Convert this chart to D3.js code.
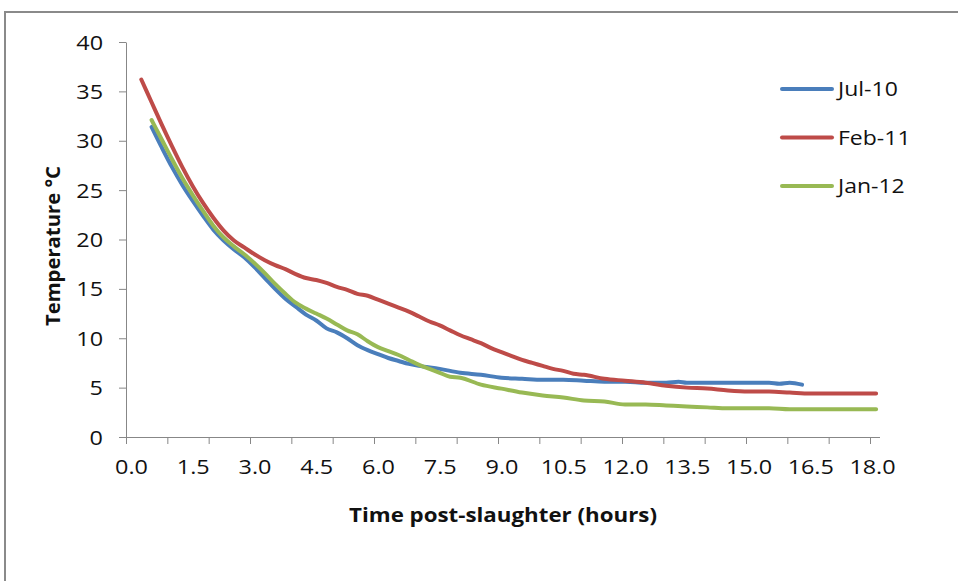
<!DOCTYPE html>
<html><head><meta charset="utf-8">
<script src="https://cdn.jsdelivr.net/npm/d3@7"></script>
<style>
body{margin:0;background:#fff}
svg{display:block}
text{font-family:"Open Sans",sans-serif;fill:#111}
</style>
</head><body>
<svg id="c" width="958" height="581"></svg>
<script>
// ---- data ----
const seriesNames = ["Jul-10", "Feb-11", "Jan-12"];
const seriesColors = ["#4A7EBB", "#BE4B48", "#98B954"];

const julHours = [0.5,0.75,1.0,1.25,1.5,1.75,2.0,2.25,2.5,2.75,3.0,3.25,3.5,3.75,4.0,4.25,4.5,4.75,5.0,5.25,5.5,5.75,6.0,6.25,6.5,6.75,7.0,7.5,8.0,8.5,9.0,9.5,10.0,10.5,11.0,11.5,12.0,12.5,13.0,13.3,13.5,14.0,14.5,15.0,15.5,15.75,16.0,16.3];
const julTemp  = [31.4,29.3,27.3,25.5,23.9,22.4,21.0,19.9,19.0,18.2,17.2,16.1,15.0,14.0,13.2,12.4,11.8,11.0,10.6,10.0,9.3,8.8,8.4,8.0,7.7,7.4,7.2,6.9,6.5,6.3,6.0,5.9,5.8,5.8,5.7,5.6,5.6,5.5,5.5,5.6,5.5,5.5,5.5,5.5,5.5,5.4,5.5,5.3];

const febHours = [0.25,0.5,0.75,1.0,1.25,1.5,1.75,2.0,2.25,2.5,2.75,3.0,3.25,3.5,3.75,4.0,4.25,4.5,4.75,5.0,5.25,5.5,5.75,6.0,6.25,6.5,6.75,7.0,7.25,7.5,7.75,8.0,8.25,8.5,8.75,9.0,9.25,9.5,9.75,10.0,10.25,10.5,10.75,11.0,11.5,12.0,12.5,13.0,13.5,14.0,14.5,15.0,15.5,16.0,16.5,17.0,17.5,18.1];
const febTemp  = [36.2,33.9,31.6,29.4,27.3,25.4,23.7,22.2,20.9,19.9,19.2,18.5,17.9,17.4,17.0,16.5,16.1,15.9,15.6,15.2,14.9,14.5,14.3,13.9,13.5,13.1,12.7,12.2,11.7,11.3,10.8,10.3,9.9,9.5,9.0,8.6,8.2,7.8,7.5,7.2,6.9,6.7,6.4,6.3,5.9,5.7,5.5,5.2,5.0,4.9,4.7,4.6,4.6,4.5,4.4,4.4,4.4,4.4];

const janHours = [0.5,0.75,1.0,1.25,1.5,1.75,2.0,2.25,2.5,2.75,3.0,3.25,3.5,3.75,4.0,4.25,4.5,4.75,5.0,5.25,5.5,5.75,6.0,6.25,6.5,6.75,7.0,7.25,7.5,7.75,8.0,8.5,9.0,9.5,10.0,10.5,11.0,11.5,12.0,12.5,13.0,13.5,14.0,14.5,15.0,15.5,16.0,17.0,18.1];
const janTemp  = [32.1,30.1,28.1,26.2,24.5,22.9,21.4,20.2,19.3,18.5,17.6,16.6,15.5,14.5,13.6,13.0,12.5,12.0,11.4,10.8,10.4,9.7,9.1,8.7,8.3,7.8,7.3,6.9,6.5,6.1,6.0,5.3,4.9,4.5,4.2,4.0,3.7,3.6,3.3,3.3,3.2,3.1,3.0,2.9,2.9,2.9,2.8,2.8,2.8];

const xTickLabels = [0, 1.5, 3.0, 4.5, 6.0, 7.5, 9.0, 10.5, 12.0, 13.5, 15.0, 16.5, 18.0];
const yTickValues = [0, 5, 10, 15, 20, 25, 30, 35, 40];
const xTitle = "Time post-slaughter (hours)";
const yTitle = "Temperature \u00B0C";

// ---- layout ----
const W = 958, H = 581;
const axisColor = "#878787";
const textScale = 1.2;
const svg = d3.select("#c");
svg.append("rect").attr("width", W).attr("height", H).attr("fill", "#fff");
svg.append("path")
  .attr("d", `M5,${H + 5}V12H${W + 5}`)
  .attr("fill", "none").attr("stroke", "#8a8a8a").attr("stroke-width", 2);

const x = d3.scaleLinear().domain([0, 18]).range([131, 872]);
const y = d3.scaleLinear().domain([0, 40]).range([437, 42]);

// y axis
const gy = svg.append("g").attr("transform", "translate(126,0)")
  .call(d3.axisLeft(y).tickValues(yTickValues).tickSize(7).tickSizeOuter(0).tickFormat(d3.format("d")));
gy.select(".domain").attr("stroke", axisColor);
gy.selectAll(".tick line").attr("stroke", axisColor);
gy.selectAll(".tick text")
  .attr("x", 0).attr("dy", "0.36em")
  .attr("transform", `translate(-23,0) scale(${textScale},1)`)
  .style("font-size", "19.5px").style("font-family", "'Open Sans',sans-serif").attr("fill", "#111");

// x axis: line + tick marks + labels
const xLo = x.invert(126), xHi = x.invert(880), xTickEnd = x.invert(870);
const tickMarkHours = d3.range(19).map(k => xLo + k * (xTickEnd - xLo) / 18);
svg.append("line")
  .attr("x1", x(xLo)).attr("x2", x(xHi)).attr("y1", y(0) + 0.5).attr("y2", y(0) + 0.5)
  .attr("stroke", axisColor);
const gxm = svg.append("g").attr("transform", `translate(0,${y(0)})`)
  .call(d3.axisBottom(x).tickValues(tickMarkHours).tickSize(7).tickSizeOuter(0).tickFormat(""));
gxm.select(".domain").remove();
gxm.selectAll(".tick line").attr("stroke", axisColor);

const gx = svg.append("g").attr("transform", `translate(0,${y(0)})`)
  .call(d3.axisBottom(x).tickValues(xTickLabels).tickSize(0).tickFormat(d3.format(".1f")));
gx.select(".domain").remove();
gx.selectAll(".tick text")
  .attr("y", 0).attr("dy", 0)
  .attr("transform", `translate(0,37) scale(${textScale},1)`)
  .style("font-size", "19.5px").style("font-family", "'Open Sans',sans-serif").attr("fill", "#111");

// axis titles
svg.append("text")
  .attr("x", 503).attr("y", 522)
  .attr("text-anchor", "middle")
  .style("font-size", "20px").style("font-weight", "bold")
  .attr("textLength", 308).attr("lengthAdjust", "spacingAndGlyphs")
  .text(xTitle);
svg.append("text")
  .attr("transform", "translate(60,246) rotate(-90)")
  .attr("text-anchor", "middle")
  .style("font-size", "19px").style("font-weight", "bold")
  .attr("textLength", 160).attr("lengthAdjust", "spacingAndGlyphs")
  .text(yTitle);

// series
const series = [
  {name: seriesNames[0], color: seriesColors[0], hours: julHours, temp: julTemp},
  {name: seriesNames[1], color: seriesColors[1], hours: febHours, temp: febTemp},
  {name: seriesNames[2], color: seriesColors[2], hours: janHours, temp: janTemp}
];
const line = d3.line()
  .x(d => x(d[0])).y(d => y(d[1]))
  .curve(d3.curveMonotoneX);
series.forEach(s => {
  svg.append("path")
    .datum(d3.zip(s.hours, s.temp))
    .attr("fill", "none")
    .attr("stroke", s.color)
    .attr("stroke-width", 4)
    .attr("stroke-linejoin", "round")
    .attr("stroke-linecap", "round")
    .attr("d", line);
});

// legend
const legendY = d3.scalePoint().domain(seriesNames).range([89, 186]);
const lg = svg.append("g");
series.forEach(s => {
  lg.append("line")
    .attr("x1", 782).attr("x2", 832)
    .attr("y1", legendY(s.name)).attr("y2", legendY(s.name))
    .attr("stroke", s.color).attr("stroke-width", 4).attr("stroke-linecap", "round");
  lg.append("text")
    .attr("transform", `translate(838,${legendY(s.name)}) scale(1.15,1)`)
    .attr("dy", "0.36em")
    .style("font-size", "20px")
    .text(s.name);
});
</script>
</body></html>
